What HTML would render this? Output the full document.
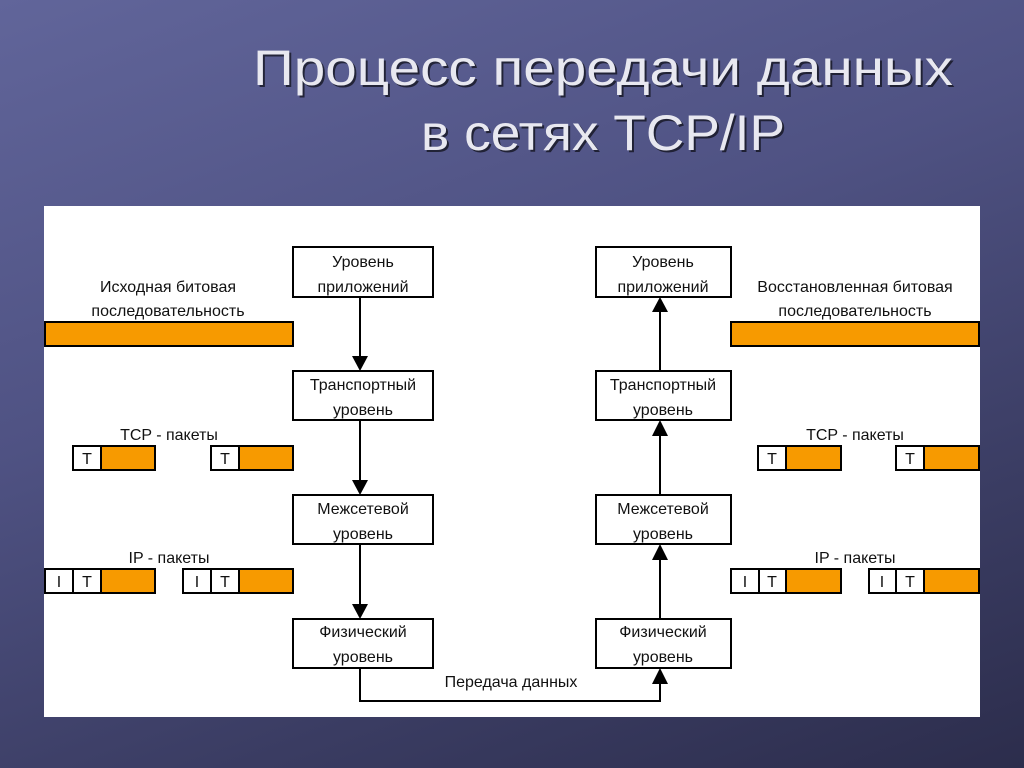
<!DOCTYPE html>
<html><head><meta charset="utf-8"><style>
html,body{margin:0;padding:0}
body{width:1024px;height:768px;overflow:hidden;background:linear-gradient(160deg,#61659a 0%,#4f5283 40%,#3a3c62 75%,#2c2d4c 100%);font-family:"Liberation Sans",sans-serif}
</style></head><body>
<svg width="1024" height="768" xmlns="http://www.w3.org/2000/svg" style="position:absolute;left:0;top:0">
<defs><marker id="a" markerWidth="10" markerHeight="10" refX="5" refY="10" orient="auto" markerUnits="userSpaceOnUse"></marker></defs>
<g font-family="Liberation Sans, sans-serif" font-size="50" fill="#000" opacity="0.6" text-anchor="middle">
<text x="605" y="87" textLength="700" lengthAdjust="spacingAndGlyphs">Процесс передачи данных</text>
<text x="605" y="152" textLength="364" lengthAdjust="spacingAndGlyphs">в сетях TCP/IP</text>
</g>
<g font-family="Liberation Sans, sans-serif" font-size="50" fill="#e8e8f0" text-anchor="middle">
<text x="603" y="85" textLength="700" lengthAdjust="spacingAndGlyphs">Процесс передачи данных</text>
<text x="603" y="150" textLength="364" lengthAdjust="spacingAndGlyphs">в сетях TCP/IP</text>
</g>
<rect x="44" y="206" width="936" height="511" fill="#fff"/>
<g stroke="#000" stroke-width="2" fill="#fff">
<rect x="293" y="247" width="140" height="50"/><rect x="293" y="371" width="140" height="49"/>
<rect x="293" y="495" width="140" height="49"/><rect x="293" y="619" width="140" height="49"/>
<rect x="596" y="247" width="135" height="50"/><rect x="596" y="371" width="135" height="49"/>
<rect x="596" y="495" width="135" height="49"/><rect x="596" y="619" width="135" height="49"/>
<line x1="360" y1="297" x2="360" y2="356"/><line x1="360" y1="420" x2="360" y2="480"/><line x1="360" y1="544" x2="360" y2="604"/>
<line x1="660" y1="312" x2="660" y2="371"/><line x1="660" y1="436" x2="660" y2="495"/><line x1="660" y1="560" x2="660" y2="619"/>
<polyline points="360,668 360,701 660,701 660,684" fill="none"/>
</g>
<g fill="#000">
<polygon points="352,356 368,356 360,371"/><polygon points="352,480 368,480 360,495"/><polygon points="352,604 368,604 360,619"/>
<polygon points="652,312 668,312 660,297"/><polygon points="652,436 668,436 660,420"/><polygon points="652,560 668,560 660,544"/><polygon points="652,684 668,684 660,668"/>
</g>
<g stroke="#000" stroke-width="2" fill="#f79a00">
<rect x="45" y="322" width="248" height="24"/><rect x="731" y="322" width="248" height="24"/>
<rect x="101" y="446" width="54" height="24"/><rect x="239" y="446" width="54" height="24"/>
<rect x="786" y="446" width="55" height="24"/><rect x="924" y="446" width="55" height="24"/>
<rect x="101" y="569" width="54" height="24"/><rect x="239" y="569" width="54" height="24"/>
<rect x="786" y="569" width="55" height="24"/><rect x="924" y="569" width="55" height="24"/>
</g>
<g stroke="#000" stroke-width="2" fill="#fff">
<rect x="73" y="446" width="28" height="24"/><rect x="211" y="446" width="28" height="24"/>
<rect x="758" y="446" width="28" height="24"/><rect x="896" y="446" width="28" height="24"/>
<rect x="45" y="569" width="28" height="24"/><rect x="73" y="569" width="28" height="24"/>
<rect x="183" y="569" width="28" height="24"/><rect x="211" y="569" width="28" height="24"/>
<rect x="731" y="569" width="28" height="24"/><rect x="759" y="569" width="27" height="24"/>
<rect x="869" y="569" width="27" height="24"/><rect x="896" y="569" width="28" height="24"/>
</g>
<g font-family="Liberation Sans, sans-serif" font-size="16" fill="#111" text-anchor="middle">
<text x="363" y="267">Уровень</text><text x="363" y="292">приложений</text>
<text x="363" y="390">Транспортный</text><text x="363" y="415">уровень</text>
<text x="363" y="514">Межсетевой</text><text x="363" y="539">уровень</text>
<text x="363" y="637">Физический</text><text x="363" y="662">уровень</text>
<text x="663" y="267">Уровень</text><text x="663" y="292">приложений</text>
<text x="663" y="390">Транспортный</text><text x="663" y="415">уровень</text>
<text x="663" y="514">Межсетевой</text><text x="663" y="539">уровень</text>
<text x="663" y="637">Физический</text><text x="663" y="662">уровень</text>
<text x="168" y="292">Исходная битовая</text><text x="168" y="316">последовательность</text>
<text x="855" y="292">Восстановленная битовая</text><text x="855" y="316">последовательность</text>
<text x="169" y="440">TCP - пакеты</text><text x="855" y="440">TCP - пакеты</text>
<text x="169" y="563">IP - пакеты</text><text x="855" y="563">IP - пакеты</text>
<text x="511" y="687">Передача данных</text>
<text x="87" y="464">T</text><text x="225" y="464">T</text><text x="772" y="464">T</text><text x="910" y="464">T</text>
<text x="59" y="587">I</text><text x="87" y="587">T</text><text x="197" y="587">I</text><text x="225" y="587">T</text>
<text x="745" y="587">I</text><text x="772" y="587">T</text><text x="882" y="587">I</text><text x="910" y="587">T</text>
</g>
</svg>
</body></html>
